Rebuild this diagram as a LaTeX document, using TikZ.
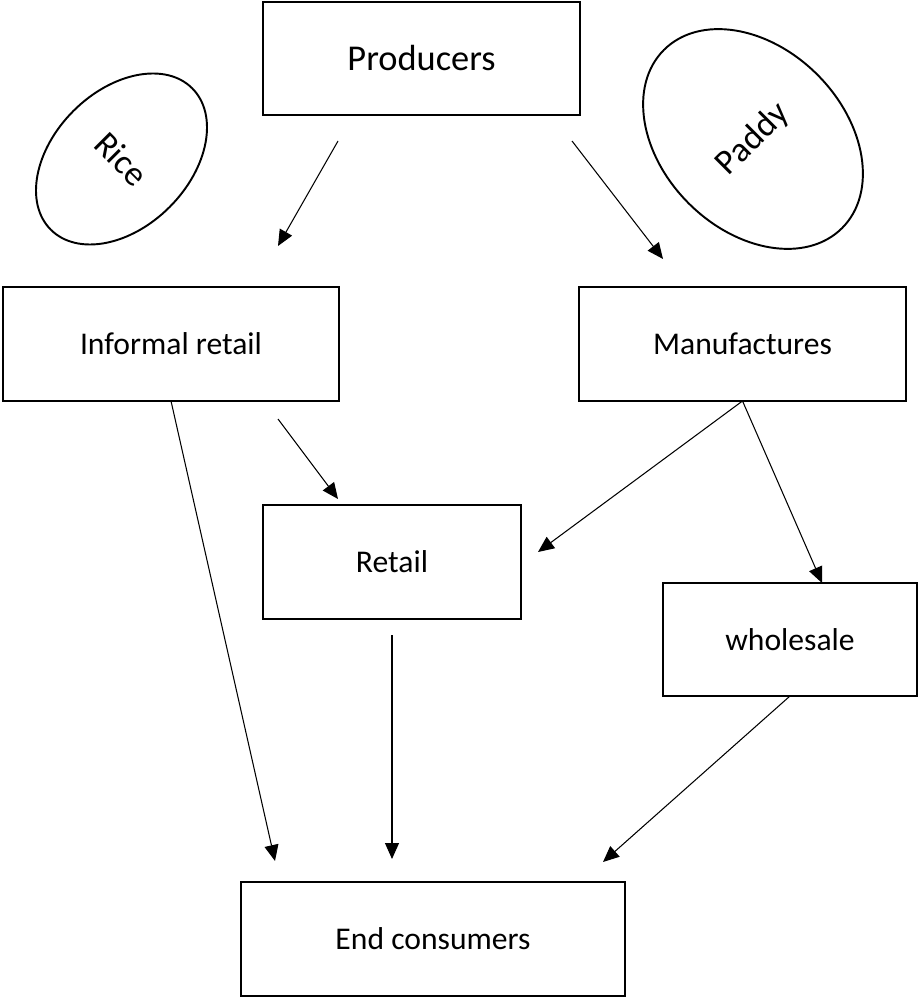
\documentclass[tikz,border=0pt]{standalone}
\usepackage{fontspec}
\setmainfont{Carlito}
\usetikzlibrary{arrows.meta,shapes.geometric}

\begin{document}
\begin{tikzpicture}[x=0.02cm,y=-0.02cm,
  box/.style={draw,line width=1.1pt,inner sep=0pt,outer sep=0pt,minimum height=2.28cm,font=\fontsize{18}{22}\selectfont},
  oval/.style={draw,ellipse,line width=1.1pt,inner sep=0pt,outer sep=0pt,font=\fontsize{20}{24}\selectfont},
  arr/.style={-{Triangle[length=0.32cm,width=0.28cm]},line width=0.6pt}]
\useasboundingbox (0,0) rectangle (918,999);

\node[box,minimum width=6.34cm,minimum height=2.26cm,font=\fontsize{20.7}{25}\selectfont] (prod) at (421.5,58.5) {Producers};
\node[oval,rotate=-45,minimum width=2.72cm,minimum height=4cm] (rice) at (121.5,159) {Rice};
\node[oval,rotate=45,minimum width=3.64cm,minimum height=5.04cm] (paddy) at (753,139) {Paddy};

\node[box,minimum width=6.72cm] (inf) at (171,344) {Informal retail};
\node[box,minimum width=6.54cm] (man) at (742.5,344) {Manufactures};
\node[box,minimum width=5.16cm] (ret) at (392,562) {Retail};
\node[box,minimum width=5.08cm,minimum height=2.26cm] (whole) at (790,639.5) {wholesale};
\node[box,minimum width=7.68cm] (end) at (433,939) {End consumers};

% loose arrow ends
\coordinate (p1) at (338,141);
\coordinate (p2) at (572,141);
\coordinate (i1) at (278,246);
\coordinate (m1) at (663,259);
\coordinate (i2) at (278,419);
\coordinate (r1) at (338,499);
\coordinate (r2) at (538,552);
\coordinate (w1) at (822,583);
\coordinate (r3) at (392,635);
\coordinate (e1) at (275,861);
\coordinate (e2) at (392,859);
\coordinate (e3) at (603,862);

\draw[arr] (p1) -- (i1);
\draw[arr] (p2) -- (m1);
\draw[arr] (i2) -- (r1);
\draw[arr] (inf.south) -- (e1);
\draw[arr] (man.south) -- (r2);
\draw[arr] (man.south) -- (w1);
\draw[arr] (r3) -- (e2);
\draw[arr] (whole.south) -- (e3);

\end{tikzpicture}
\end{document}
